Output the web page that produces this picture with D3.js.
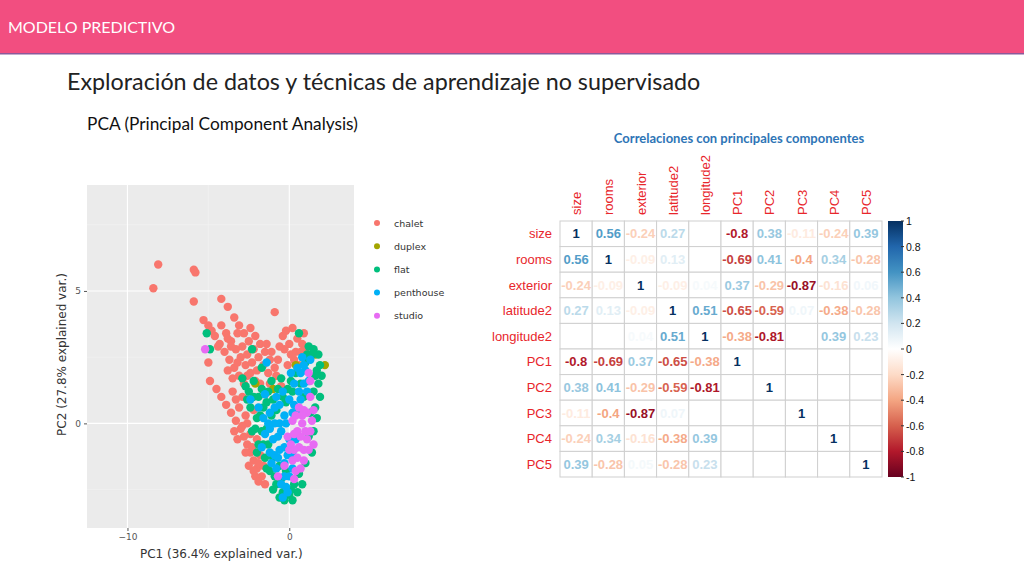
<!DOCTYPE html>
<html><head><meta charset="utf-8">
<script src="https://cdn.jsdelivr.net/npm/d3@7"></script>
<style>body{margin:0;background:#fff}svg{display:block}</style>
</head><body><svg id="s" width="1024" height="576"></svg>
<script>
const vars=["size","rooms","exterior","latitude2","longitude2","PC1","PC2","PC3","PC4","PC5"];
const corr=[
[1,0.56,-0.24,0.27,null,-0.8,0.38,-0.11,-0.24,0.39],
[0.56,1,-0.09,0.13,null,-0.69,0.41,-0.4,0.34,-0.28],
[-0.24,-0.09,1,-0.09,0.04,0.37,-0.29,-0.87,-0.16,0.06],
[0.27,0.13,-0.09,1,0.51,-0.65,-0.59,0.07,-0.38,-0.28],
[null,null,0.04,0.51,1,-0.38,-0.81,null,0.39,0.23],
[-0.8,-0.69,0.37,-0.65,-0.38,1,null,null,null,null],
[0.38,0.41,-0.29,-0.59,-0.81,null,1,null,null,null],
[-0.11,-0.4,-0.87,0.07,null,null,null,1,null,null],
[-0.24,0.34,-0.16,-0.38,0.39,null,null,null,1,null],
[0.39,-0.28,0.05,-0.28,0.23,null,null,null,null,1]];
const cbTicks=[1,0.8,0.6,0.4,0.2,0,-0.2,-0.4,-0.6,-0.8,-1];
const groups=["chalet","duplex","flat","penthouse","studio"];
const groupColors=["#F8766D","#A3A500","#00BF7D","#00B0F6","#E76BF3"];
const chalet=[[-8.1,6.0],[-8.4,5.1],[-5.9,5.8],[-5.8,5.7],[-5.9,4.6],[-4.2,4.7],[-3.8,4.4],[-0.9,4.2],
[-5.3,3.9],[-5.0,3.7],[-4.6,3.3],[-4.3,3.0],[-4.0,2.7],[-3.7,2.4],[-3.4,2.1],[-3.1,1.8],[-2.8,1.5],
[-4.2,3.7],[-3.9,3.4],[-3.6,3.1],[-3.3,2.8],[-3.0,2.5],[-2.7,2.2],[-2.4,1.9],[-2.1,1.6],
[-3.4,4.0],[-3.1,3.7],[-2.8,3.4],[-2.5,3.1],[-2.2,2.8],[-1.9,2.5],[-1.6,2.2],[-1.3,1.9],
[-2.4,3.6],[-2.1,3.3],[-1.8,3.0],[-1.5,2.7],[-1.2,2.4],[-0.9,2.1],
[-5.0,2.3],[-4.9,1.6],[-4.5,1.3],[-4.2,1.0],[-3.9,0.7],[-3.6,0.4],[-3.3,0.1],[-3.0,-0.2],[-2.8,-0.5],[-2.6,-0.8],[-2.4,-1.1],[-2.2,-1.4],[-2.0,-1.7],[-1.7,-2.0],[-3.4,-0.3],
[0.2,3.6],[0.5,3.2],[0.8,3.0],[0.0,3.0],[-0.3,2.8],[0.4,2.7],[1.0,2.8],[-0.4,3.3],[0.3,2.4],[0.6,2.2],[-0.6,2.9],[0.1,2.6],
[-3.6,2.9],[-3.2,2.3],[-2.6,2.6],[-2.0,2.0],[-1.8,1.5],[-3.5,1.7],[-3.8,2.0],[-2.2,0.5],[-2.6,0.0],[-2.0,-0.6],[-1.8,-1.2],[-2.4,-0.4],[-1.6,-1.6],[-1.5,1.1],[-1.2,1.5],[-0.8,1.8],[-0.5,1.4],
[-2.9,1.0],[-3.1,0.6],[-2.7,0.3],[-2.3,-0.9],[-1.9,-1.5],[-2.5,-1.6],[-2.1,-2.0],[-1.5,-2.3],[-3.2,-0.6],
[-4.8,3.5],[-4.4,2.9],[-3.8,3.2],[-3.2,3.4],[-2.9,2.9],[-2.6,1.8],[-2.3,2.3],[-1.4,3.0],[-1.1,2.7],[-0.7,2.4],[-3.5,1.2],[-3.3,0.9],[-2.9,-0.1],[-2.7,-1.1],[-2.2,-1.8],[-1.9,-2.2],[-0.2,3.5],[0.9,3.4],[0.7,2.7],[-0.1,2.2]];
const duplex=[[2.2,2.2],[0.4,2.2],[1.6,2.6],[-1.0,1.3],[-2.1,1.5]];
const flat=[[-5.1,3.4],[-4.9,2.8],[-2.3,2.8],[0.6,3.4],
[-2.5,1.2],[-2.2,1.6],[-1.9,1.0],[-1.6,0.6],[-2.0,0.2],[-1.3,1.2],[-1.0,0.9],[-0.7,1.3],[-2.3,-0.3],[-1.9,-0.8],[-1.5,-1.3],[-1.2,-1.8],[-0.8,-2.3],[-0.4,-2.6],[0.0,-2.7],[-0.5,-2.1],[0.3,-2.3],[0.6,-1.9],[1.0,-1.5],[1.2,-0.5],[1.3,0.4],[1.5,1.2],[1.7,2.0],[1.9,2.2],[1.4,2.6],[1.0,2.3],[0.7,1.5],[0.4,1.9],[1.8,1.5],[1.6,0.6],[-0.2,0.8],[-1.4,-0.2],[0.2,1.2],[1.2,2.9],[-0.2,-1.8],[0.5,-2.6],[-0.9,-2.0],[1.5,2.8],[0.9,1.0],
[-2.7,1.4],[-2.4,0.6],[-1.7,1.3],[-1.1,0.3],[-1.7,-0.3],[-1.3,-0.8],[-2.0,-1.1],[-1.0,-1.3],[-0.6,-1.6],[-0.3,-2.9],[0.2,-2.9],[0.8,-2.3],[1.6,1.8],[1.9,1.0],[0.1,1.6],[-0.4,1.0],[-1.7,2.1],[-2.9,1.7],
[-2.6,0.9],[-2.2,1.0],[-1.8,0.3],[-1.4,0.8],[-1.1,1.6],[-0.8,0.5],[-0.5,1.7],[-0.1,1.3],[1.8,2.6],[1.7,0.2],[1.5,-0.3],[1.4,-1.1],[-1.6,-0.8],[-2.1,-0.2],[-1.0,-2.5],[-0.6,-2.8],[0.1,-2.5],[-1.4,-1.7],[2.0,1.8],[1.1,2.6]];
const penthouse=[[-1.5,1.1],[-1.2,0.4],[-0.9,0.0],[-0.6,0.7],[-0.3,0.3],[0.0,0.9],[-1.0,-0.6],[-0.6,-1.0],[-0.3,-1.5],[0.0,-2.0],[-0.2,-2.4],[0.2,-1.2],[-1.5,-0.4],[-1.2,-1.1],[0.5,0.4],[0.7,1.9],[1.0,2.0],[0.8,2.5],[1.2,1.6],[0.3,1.5],[-0.5,-0.3],[-0.8,-1.7],[0.0,-0.6],[-1.9,0.6],[-1.4,2.3],[-2.4,0.9],[1.3,2.4],[-0.4,-2.8],
[-0.9,0.6],[-0.3,-0.9],[0.3,0.7],[-1.2,-0.2],[0.6,1.2],[0.9,1.5],[-0.6,0.0],[-0.1,-1.2],[0.4,-0.6],[-0.9,-1.2],[-0.5,-2.3],[-1.7,-0.9],
[-1.3,0.0],[-0.7,-0.5],[-0.2,0.0],[0.2,0.4],[-0.4,1.2],[0.1,1.9],[0.5,2.1],[0.9,2.2],[1.1,1.2],[0.7,0.9],[-1.1,-1.5],[-0.7,-1.3],[-0.3,-2.0],[-0.1,-2.6],[0.2,-1.7],[-1.6,0.2],[-0.8,1.0]];
const studio=[[-5.2,2.8],[0.2,0.1],[0.5,-0.3],[0.8,0.0],[1.1,-0.6],[0.6,-0.9],[0.2,-1.4],[0.9,-1.4],[0.4,-1.8],[1.2,-1.0],[1.4,0.1],[1.3,1.0],[1.1,0.4],[-0.1,-0.5],[0.6,0.6],[1.5,-0.8],[0.0,-1.0],[1.2,1.9],[1.3,1.6],[0.3,-2.1],[-0.7,-2.0],[0.9,0.5],[0.7,-1.7],[1.0,-0.3],[0.4,0.3],[-0.3,-1.6],
[0.3,-0.4],[0.7,-0.5],[1.3,-0.3],[0.5,-1.3],[0.9,-1.0],[0.1,-0.8],[1.5,0.5],[0.8,0.3],[0.3,-1.0]];
const series=[chalet,duplex,flat,penthouse,studio];

const svg=d3.select("#s");
const F="Lato, 'Open Sans', sans-serif";
svg.append("rect").attr("x",0).attr("y",0).attr("width",1024).attr("height",54).attr("fill","#F24E80");
svg.append("rect").attr("x",0).attr("y",53).attr("width",1024).attr("height",1.5).attr("fill","#8B5A9A");
svg.append("text").attr("x",8).attr("y",33).attr("fill","#fff").attr("font-family",F).attr("font-size",16).text("MODELO PREDICTIVO");
svg.append("text").attr("x",67).attr("y",90).attr("fill","#222").attr("font-family",F).attr("font-size",23.3).text("Exploración de datos y técnicas de aprendizaje no supervisado");
svg.append("text").attr("x",87).attr("y",130).attr("fill","#111").attr("font-family",F).attr("font-size",17.3).text("PCA (Principal Component Analysis)");

const P={l:87,r:354,t:185,b:528};
const x=d3.scaleLinear().domain([-12.5,4.0]).range([P.l,P.r]);
const y=d3.scaleLinear().domain([-3.95,9.0]).range([P.b,P.t]);
svg.append("rect").attr("x",P.l).attr("y",P.t).attr("width",P.r-P.l).attr("height",P.b-P.t).attr("fill","#EBEBEB");
const g=svg.append("g");
[-5].forEach(v=>g.append("line").attr("x1",x(v)).attr("x2",x(v)).attr("y1",P.t).attr("y2",P.b).attr("stroke","#f4f4f4").attr("stroke-width",0.5));
[-2.5,2.5,7.5].forEach(v=>g.append("line").attr("y1",y(v)).attr("y2",y(v)).attr("x1",P.l).attr("x2",P.r).attr("stroke","#f4f4f4").attr("stroke-width",0.5));
[-10,0].forEach(v=>g.append("line").attr("x1",x(v)).attr("x2",x(v)).attr("y1",P.t).attr("y2",P.b).attr("stroke","#fff").attr("stroke-width",1.1));
[0,5].forEach(v=>g.append("line").attr("y1",y(v)).attr("y2",y(v)).attr("x1",P.l).attr("x2",P.r).attr("stroke","#fff").attr("stroke-width",1.1));
series.forEach((s,i)=>g.selectAll(null).data(s).enter().append("circle")
 .attr("cx",d=>x(d[0])).attr("cy",d=>y(d[1])).attr("r",4.2).attr("fill",groupColors[i]));
const xa=svg.append("g").attr("transform",`translate(0,${P.b})`).call(d3.axisBottom(x).tickValues([-10,0]).tickSize(3).tickFormat(d3.format("d")));
const ya=svg.append("g").attr("transform",`translate(${P.l},0)`).call(d3.axisLeft(y).tickValues([0,5]).tickSize(3).tickFormat(d3.format("d")));
[xa,ya].forEach(a=>{a.select(".domain").remove();a.selectAll("line").attr("stroke","#555");a.selectAll("text").attr("fill","#555").attr("font-family","'DejaVu Sans',sans-serif").attr("font-size",9);});
svg.append("text").attr("x",x(-4.2)).attr("y",558).attr("text-anchor","middle").attr("fill","#333").attr("font-family","'DejaVu Sans',sans-serif").attr("font-size",12).text("PC1 (36.4% explained var.)");
svg.append("text").attr("transform",`translate(66,${y(2.6)}) rotate(-90)`).attr("text-anchor","middle").attr("fill","#333").attr("font-family","'DejaVu Sans',sans-serif").attr("font-size",12).text("PC2 (27.8% explained var.)");
groups.forEach((n,i)=>{const yy=223+i*23.2;
 svg.append("circle").attr("cx",377).attr("cy",yy).attr("r",3).attr("fill",groupColors[i]);
 svg.append("text").attr("x",394).attr("y",yy+3.5).attr("fill","#333").attr("font-family","'DejaVu Sans',sans-serif").attr("font-size",9.5).text(n);});

const pal=["#67001F","#B2182B","#D6604D","#F4A582","#FDDBC7","#FFFFFF","#D1E5F0","#92C5DE","#4393C3","#2166AC","#053061"];
const col=d3.scaleLinear().domain(d3.range(11).map(i=>-1+i*0.2)).range(pal);
const mx=d3.scaleBand().domain(vars).range([560,882]);
const my=d3.scaleBand().domain(vars).range([221,477]);
svg.append("text").attr("x",739).attr("y",143).attr("text-anchor","middle").attr("fill","#2E75B6").attr("font-weight","bold").attr("font-family",F).attr("font-size",13).text("Correlaciones con principales componentes");
const m=svg.append("g");
vars.forEach((r,i)=>vars.forEach((c,j)=>{
 m.append("rect").attr("x",mx(c)).attr("y",my(r)).attr("width",mx.bandwidth()).attr("height",my.bandwidth()).attr("fill","#fff").attr("stroke","#cfcfcf").attr("stroke-width",1);
 const v=corr[i][j]; if(v===null) return;
 m.append("text").attr("x",mx(c)+mx.bandwidth()/2).attr("y",my(r)+my.bandwidth()/2+4.5).attr("text-anchor","middle")
  .attr("fill",col(v)).attr("font-weight","bold").attr("font-family","'Liberation Sans',Arial,sans-serif").attr("font-size",13)
  .text(String(v));
}));
vars.forEach(v=>{
 m.append("text").attr("x",552).attr("y",my(v)+my.bandwidth()/2+4.5).attr("text-anchor","end").attr("fill","#E8262B").attr("font-family","'Liberation Sans',Arial,sans-serif").attr("font-size",13).text(v);
 m.append("text").attr("transform",`translate(${mx(v)+mx.bandwidth()/2+5},215) rotate(-90)`).attr("fill","#E8262B").attr("font-family","'Liberation Sans',Arial,sans-serif").attr("font-size",13).text(v);
});
const defs=svg.append("defs");const lg=defs.append("linearGradient").attr("id","cb").attr("x1",0).attr("x2",0).attr("y1",1).attr("y2",0);
pal.forEach((c,i)=>lg.append("stop").attr("offset",i/10).attr("stop-color",c));
svg.append("rect").attr("x",888).attr("y",221).attr("width",15).attr("height",256).attr("fill","url(#cb)");
const cy=d3.scaleLinear().domain([-1,1]).range([477,221]);
cbTicks.forEach(t=>{svg.append("line").attr("x1",901).attr("x2",904).attr("y1",cy(t)).attr("y2",cy(t)).attr("stroke","#333");
 svg.append("text").attr("x",906).attr("y",cy(t)+4).attr("fill","#111").attr("font-family","'Liberation Sans',Arial,sans-serif").attr("font-size",10.5).text(t);});
</script></body></html>
